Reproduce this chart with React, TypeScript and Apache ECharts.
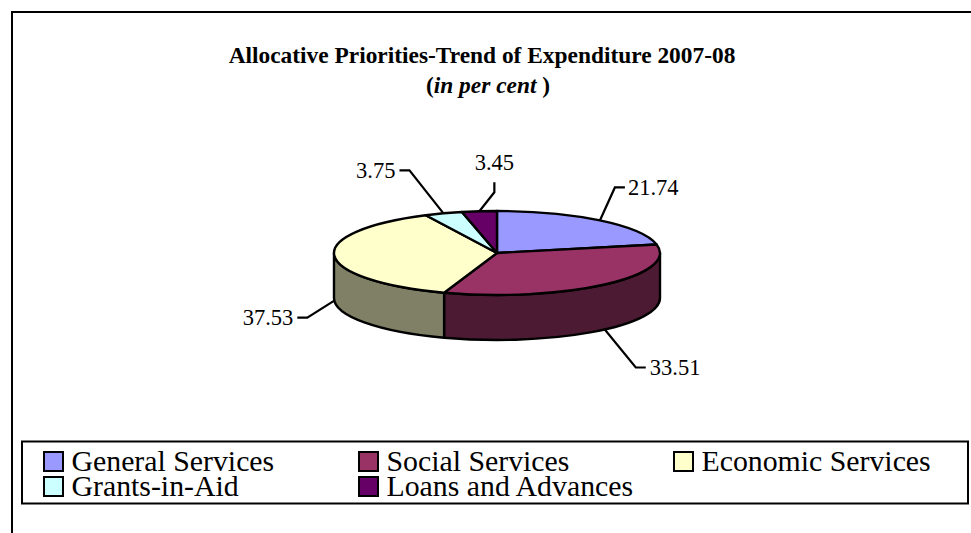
import React, { useEffect, useRef } from "react";
import * as echarts from "echarts";

const categories = ["General Services", "Social Services", "Economic Services", "Grants-in-Aid", "Loans and Advances"];
const shares = [21.74, 33.51, 37.53, 3.75, 3.45];

const topColors = ["#9999FF", "#993366", "#FFFFCC", "#CCFFFF", "#660066"];
const sideColors = ["#4D4D80", "#4D1A33", "#808066", "#668080", "#330033"];

const W = 971;
const H = 533;
const FONT = '"Liberation Serif", "Times New Roman", serif';
const cx = 497;
const cy = 253;
const rx = 163;
const ry = 42;
const depth = 45;

// leader layout per slice: elbow and end offsets from the anchor, then text offset from the end
const leaderElbow = [[15, -33], [31, 38], [-27, 17], [-34, -43], [15, -19]];
const leaderEnd = [[25, -33], [41, 38], [-37, 17], [-44, -43], [15, -29]];
const textOffset = [[3, 0], [4, 0], [-4, 0], [-4, 0], [0, -20]];
const textAlign = ["left", "left", "right", "right", "center"];
const onSide = [false, true, true, false, false];

const legendX = [44, 359, 674];
const legendRowY = [452, 477];

const total = shares.reduce((a, b) => a + b, 0);
const rows = shares.map((v, i) => {
  const before = shares.slice(0, i).reduce((a, b) => a + b, 0);
  return [(before / total) * 360, ((before + v) / total) * 360, i, v];
});

const px = (t: number) => cx + rx * Math.sin((t * Math.PI) / 180);
const py = (t: number) => cy - ry * Math.cos((t * Math.PI) / 180);

function renderSide(_p: any, api: any) {
  const a = Math.max(api.value(0), 90);
  const b = Math.min(api.value(1), 270);
  if (a >= b) return null;
  const i = api.value(2);
  const large = b - a > 180 ? 1 : 0;
  const d =
    `M${px(a)} ${py(a)} A${rx} ${ry} 0 ${large} 1 ${px(b)} ${py(b)} ` +
    `L${px(b)} ${py(b) + depth} A${rx} ${ry} 0 ${large} 0 ${px(a)} ${py(a) + depth} Z`;
  return {
    type: "path",
    shape: { pathData: d },
    style: { fill: sideColors[i], stroke: "#000", lineWidth: 2.4, lineJoin: "round" },
  };
}

function renderTop(_p: any, api: any) {
  const a = api.value(0);
  const b = api.value(1);
  const i = api.value(2);
  const large = b - a > 180 ? 1 : 0;
  const d = `M${cx} ${cy} L${px(a)} ${py(a)} A${rx} ${ry} 0 ${large} 1 ${px(b)} ${py(b)} Z`;
  return {
    type: "path",
    shape: { pathData: d },
    style: { fill: topColors[i], stroke: "#000", lineWidth: 2.4, lineJoin: "round" },
  };
}

function renderLabel(_p: any, api: any) {
  const mid = (api.value(0) + api.value(1)) / 2;
  const i = api.value(2);
  const ax = px(mid);
  const ay = py(mid) + (onSide[i] ? depth : 0);
  const ex = ax + leaderEnd[i][0];
  const ey = ay + leaderEnd[i][1];
  return {
    type: "group",
    children: [
      {
        type: "polyline",
        shape: { points: [[ax, ay], [ax + leaderElbow[i][0], ay + leaderElbow[i][1]], [ex, ey]] },
        style: { fill: "none", stroke: "#000", lineWidth: 2.2 },
      },
      {
        type: "text",
        style: {
          text: api.value(3).toFixed(2),
          x: ex + textOffset[i][0],
          y: ey + textOffset[i][1],
          fill: "#000",
          font: `22.5px ${FONT}`,
          align: textAlign[i],
          verticalAlign: "middle",
        },
      },
    ],
  };
}

const legendElements = categories.flatMap((name, i) => {
  const col = i < 3 ? i : i - 3;
  const row = i < 3 ? 0 : 1;
  return [
    {
      type: "rect",
      shape: { x: legendX[col], y: legendRowY[row], width: 19, height: 19 },
      style: { fill: topColors[i], stroke: "#000", lineWidth: 2 },
    },
    {
      type: "text",
      style: {
        text: name,
        x: legendX[col] + 27.5,
        y: legendRowY[row] + 8,
        fill: "#000",
        font: `29.8px ${FONT}`,
        lineHeight: 24,
        align: "left",
        verticalAlign: "middle",
      },
    },
  ];
});

export default function App() {
  const ref = useRef<HTMLDivElement>(null);
  useEffect(() => {
    document.body.style.margin = "0";
    const chart = echarts.init(ref.current!, undefined, { renderer: "svg" });
    chart.setOption({
      animation: false,
      backgroundColor: "#fff",
      title: [
        {
          text: "Allocative Priorities-Trend of Expenditure 2007-08",
          left: 482,
          top: 43,
          textAlign: "center",
          padding: 0,
          textStyle: { fontFamily: FONT, fontWeight: "bold", fontSize: 23.4, color: "#000" },
        },
        {
          text: "{a|(}{b|in per cent }{a|)}",
          left: 488,
          top: 73,
          textAlign: "center",
          padding: 0,
          textStyle: {
            fontFamily: FONT,
            fontSize: 23.4,
            color: "#000",
            rich: {
              a: { fontFamily: FONT, fontWeight: "bold", fontSize: 23.4, color: "#000" },
              b: { fontFamily: FONT, fontWeight: "bold", fontStyle: "italic", fontSize: 23.4, color: "#000" },
            },
          },
        },
      ],
      graphic: {
        elements: [
          {
            type: "polyline",
            shape: { points: [[12, H + 2], [12, 12], [W + 2, 12]] },
            style: { fill: "none", stroke: "#000", lineWidth: 2 },
          },
          {
            type: "rect",
            shape: { x: 22, y: 441.5, width: 946, height: 62 },
            style: { fill: "#fff", stroke: "#000", lineWidth: 2 },
          },
          ...legendElements,
        ],
      },
      series: [
        { type: "custom", name: "sides", coordinateSystem: "none", renderItem: renderSide, data: rows, z: 2, silent: true },
        { type: "custom", name: "tops", coordinateSystem: "none", renderItem: renderTop, data: rows, z: 3, silent: true },
        { type: "custom", name: "labels", coordinateSystem: "none", renderItem: renderLabel, data: rows, z: 4, silent: true },
      ],
    });
    return () => chart.dispose();
  }, []);
  return <div ref={ref} style={{ width: W, height: H }} />;
}
